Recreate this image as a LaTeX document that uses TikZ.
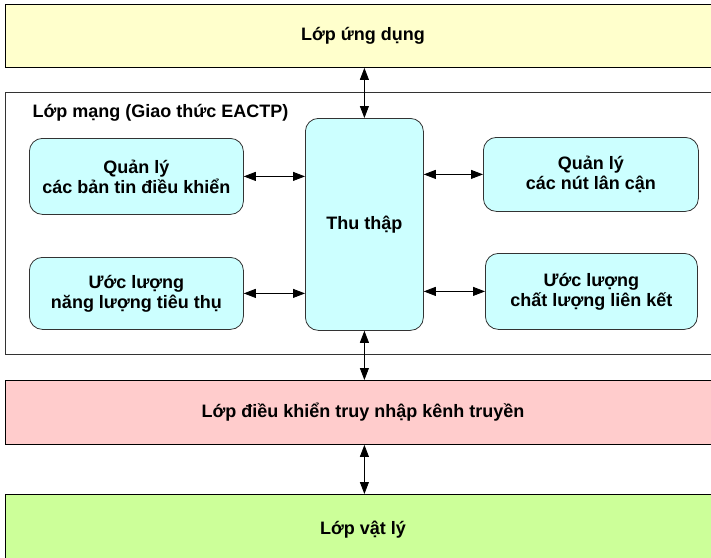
\documentclass[tikz,border=0pt]{standalone}
\usepackage{fontspec}
\setmainfont{Liberation Sans}
\usetikzlibrary{arrows.meta}
\definecolor{appc}{HTML}{FFFFCC}
\definecolor{modc}{HTML}{CCFFFF}
\definecolor{macc}{HTML}{FFCCCC}
\definecolor{phyc}{HTML}{CCFF99}
\definecolor{edgec}{HTML}{333333}
\tikzset{
  txt/.style={font=\fontsize{18}{20}\selectfont\bfseries, align=center, text=black},
  layer/.style={txt, draw=black, line width=0.9pt, anchor=north west, minimum width=715pt, inner sep=0pt},
  netbox/.style={draw=edgec, line width=0.9pt, fill=white, anchor=north west, minimum width=715pt, inner sep=0pt},
  modbox/.style={txt, draw=edgec, line width=0.8pt, fill=modc, rounded corners=13pt, anchor=north west, inner sep=0pt},
  biarrow/.style={draw=black, line width=0.8pt, {Triangle[length=12pt,width=9pt]}-{Triangle[length=12pt,width=9pt]}}
}
\begin{document}
\begin{tikzpicture}[x=1pt,y=-1pt]
\useasboundingbox (0,0) rectangle (711,557);
\clip (0,0) rectangle (711,557);
% layers
\node[layer, fill=appc, minimum height=63pt] (app) at (5,4) {Lớp ứng dụng};
\node[netbox, minimum height=262pt] (net) at (5,92) {};
\node[txt, anchor=west] (nettitle) at (29,113) {Lớp mạng (Giao thức EACTP)};
\node[layer, fill=macc, minimum height=64pt] (mac) at (5,380) {Lớp điều khiển truy nhập kênh truyền};
\node[layer, fill=phyc, minimum height=70pt] (phy) at (5,494) {Lớp vật lý};
% modules
\node[modbox, minimum width=118pt, minimum height=212pt] (thu) at (305,118) {Thu thập};
\node[modbox, minimum width=214pt, minimum height=76pt] (qlbt) at (29,138) {Quản lý\\các bản tin điều khiển};
\node[modbox, minimum width=214pt, minimum height=72pt] (ulnl) at (29,257) {Ước lượng\\năng lượng tiêu thụ};
\node[modbox, minimum width=215pt, minimum height=74pt] (qln) at (483,137) {Quản lý\\các nút lân cận};
\node[modbox, minimum width=212pt, minimum height=76pt] (ulcl) at (485,253) {Ước lượng\\chất lượng liên kết};
% connectors
\draw[biarrow] (app.south -| thu.north) -- (thu.north);
\draw[biarrow] (thu.south) -- (thu.south |- mac.north);
\draw[biarrow] (mac.south -| thu.south) -- (thu.south |- phy.north);
\draw[biarrow] (qlbt.east) -- (qlbt.east -| thu.west);
\draw[biarrow] (ulnl.east) -- (ulnl.east -| thu.west);
\draw[biarrow] (qln.west -| thu.east) -- (qln.west);
\draw[biarrow] (ulcl.west -| thu.east) -- (ulcl.west);
\end{tikzpicture}
\end{document}
